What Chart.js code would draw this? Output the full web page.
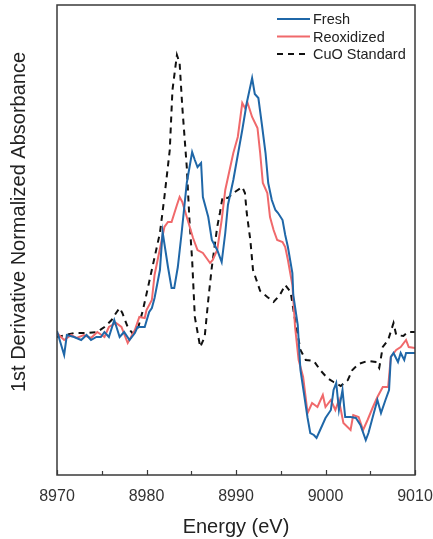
<!DOCTYPE html>
<html>
<head>
<meta charset="utf-8">
<script src="https://cdn.jsdelivr.net/npm/chart.js@4.4.1/dist/chart.umd.min.js"></script>
<style>
  html, body { margin: 0; padding: 0; background: #fff; }
  #wrap { width: 433px; height: 539px; }
</style>
</head>
<body>
<div id="wrap"><canvas id="xanesChart" width="433" height="539"></canvas></div>
<script>
// Energia (eV) y valores de la derivada (unidades arbitrarias)
const energiaFresh = [8970.0, 8970.8, 8971.1, 8971.9, 8972.7, 8973.3, 8973.8, 8974.4, 8974.9, 8975.3, 8975.8, 8976.4, 8977.0, 8977.5, 8978.1, 8978.7, 8979.0, 8979.8, 8980.3, 8980.6, 8980.9, 8981.5, 8981.8, 8982.4, 8982.8, 8983.1, 8983.5, 8983.9, 8984.5, 8985.1, 8985.4, 8985.7, 8986.1, 8986.3, 8986.9, 8987.3, 8987.9, 8988.4, 8988.8, 8989.1, 8989.7, 8990.7, 8991.2, 8991.8, 8992.1, 8992.5, 8992.9, 8993.3, 8993.6, 8994.0, 8994.4, 8994.7, 8995.2, 8995.5, 8995.8, 8996.3, 8996.4, 8996.9, 8997.2, 8998.0, 8998.3, 8998.7, 8999.0, 8999.4, 9000.0, 9000.6, 9000.9, 9001.2, 9001.5, 9001.9, 9002.2, 9002.8, 9003.4, 9003.9, 9004.5, 9004.8, 9005.4, 9005.8, 9006.2, 9006.7, 9007.1, 9007.3, 9007.6, 9008.1, 9008.4, 9008.8, 9009.0, 9010.0];
const valoresFresh = [144, 120, 140, 138, 135, 140, 135, 138, 138, 143, 138, 155, 138, 143, 135, 142, 148, 148, 163, 167, 177, 205, 243, 208, 187, 187, 208, 240, 292, 323, 315, 308, 312, 278, 258, 235, 225, 213, 242, 270, 295, 345, 372, 397, 381, 377, 350, 322, 292, 275, 265, 262, 255, 240, 228, 202, 180, 150, 105, 57, 42, 40, 37, 45, 57, 65, 85, 92, 65, 85, 58, 58, 57, 50, 35, 42, 62, 75, 62, 75, 85, 118, 122, 113, 122, 115, 122, 122];

const energiaReox = [8970.0, 8970.8, 8971.6, 8972.2, 8973.0, 8973.8, 8974.5, 8975.3, 8975.8, 8976.6, 8977.2, 8977.9, 8978.7, 8979.2, 8979.8, 8980.0, 8980.6, 8980.9, 8981.7, 8982.0, 8982.4, 8982.8, 8983.4, 8983.7, 8984.0, 8984.6, 8985.2, 8985.7, 8986.3, 8986.7, 8987.1, 8987.4, 8987.9, 8988.4, 8988.8, 8989.7, 8990.2, 8990.7, 8991.0, 8991.3, 8991.8, 8992.4, 8992.7, 8993.0, 8993.5, 8993.8, 8994.2, 8994.6, 8995.2, 8995.5, 8995.8, 8996.3, 8996.6, 8997.0, 8997.5, 8998.0, 8998.5, 8999.1, 8999.7, 9000.0, 9000.6, 9001.1, 9001.5, 9002.0, 9002.8, 9003.1, 9003.7, 9004.2, 9004.7, 9005.3, 9005.8, 9006.4, 9007.0, 9007.3, 9007.9, 9008.4, 9009.0, 9009.3, 9010.0];
const valoresReox = [142, 135, 140, 137, 140, 137, 143, 138, 148, 152, 148, 132, 145, 158, 157, 165, 175, 200, 235, 248, 253, 253, 270, 278, 273, 255, 237, 225, 222, 217, 212, 215, 225, 255, 285, 322, 338, 372, 367, 372, 358, 347, 322, 292, 282, 258, 245, 235, 233, 228, 215, 190, 148, 115, 98, 62, 72, 68, 80, 68, 75, 65, 75, 52, 45, 60, 58, 45, 55, 68, 78, 88, 88, 118, 125, 128, 135, 128, 127];

const energiaCuO = [8970.0, 8971.9, 8973.4, 8974.5, 8975.3, 8976.1, 8976.6, 8977.0, 8977.3, 8977.9, 8978.4, 8979.0, 8979.6, 8980.1, 8981.5, 8982.0, 8982.6, 8982.9, 8983.4, 8983.7, 8984.0, 8984.5, 8984.8, 8985.1, 8985.4, 8986.0, 8986.5, 8986.9, 8987.3, 8987.9, 8988.2, 8988.5, 8989.1, 8989.7, 8990.7, 8991.0, 8991.2, 8991.6, 8991.9, 8992.7, 8993.5, 8994.2, 8994.9, 8995.5, 8996.1, 8996.6, 8997.2, 8997.8, 8998.7, 8999.4, 9000.2, 9000.9, 9001.7, 9002.5, 9003.0, 9003.7, 9004.7, 9005.6, 9006.0, 9006.4, 9007.0, 9007.6, 9007.9, 9008.7, 9009.2, 9010.0];
const valoresCuO = [138, 142, 142, 143, 148, 155, 162, 167, 162, 148, 142, 145, 165, 185, 242, 278, 325, 385, 420, 412, 368, 308, 255, 215, 158, 128, 138, 175, 208, 248, 262, 278, 277, 282, 288, 282, 262, 235, 205, 184, 178, 173, 180, 190, 183, 155, 125, 115, 114, 105, 97, 93, 89, 95, 105, 111, 114, 113, 107, 128, 135, 152, 140, 139, 143, 143];

const etiquetas = ['Fresh', 'Reoxidized', 'CuO Standard'];
const ticksEnergia = [8970, 8980, 8990, 9000, 9010];
const tituloY = '1st Derivative Normalized Absorbance';

const fuente = '"Liberation Sans", Arial, sans-serif';

function puntos(xs, ys) {
    return xs.map((x, i) => ({ x: x, y: ys[i] }));
}

// Marco, marcas hacia adentro, titulo Y y leyenda dentro del area
const marcoPlugin = {
    id: 'marco',
    afterDraw(chart) {
        const ctx = chart.ctx;
        const a = chart.chartArea;
        const xs = chart.scales.x;
        ctx.save();
        ctx.strokeStyle = '#3a3a3a';
        ctx.lineWidth = 1.5;
        ctx.strokeRect(a.left, a.top, a.right - a.left, a.bottom - a.top);
        ctx.lineWidth = 1.2;
        for (let e = 8970; e <= 9010; e += 5) {
            const px = Math.round(xs.getPixelForValue(e)) + 0.5;
            const len = (e % 10 === 0) ? 5 : 4;
            ctx.beginPath();
            ctx.moveTo(px, a.bottom);
            ctx.lineTo(px, a.bottom - len);
            ctx.stroke();
        }
        // titulo del eje Y
        ctx.save();
        ctx.translate(19, 222);
        ctx.rotate(-Math.PI / 2);
        ctx.font = '20px ' + fuente;
        ctx.fillStyle = '#222';
        ctx.textAlign = 'center';
        ctx.textBaseline = 'middle';
        ctx.fillText(tituloY, 0, 0);
        ctx.restore();
        // leyenda
        ctx.font = '14.5px ' + fuente;
        ctx.textBaseline = 'middle';
        ctx.fillStyle = '#222';
        chart.data.datasets.forEach((ds, i) => {
            const y = 19 + i * 17.5;
            ctx.strokeStyle = ds.borderColor;
            ctx.lineWidth = 2;
            ctx.setLineDash(ds.borderDash || []);
            ctx.beginPath();
            ctx.moveTo(277, y);
            ctx.lineTo(310, y);
            ctx.stroke();
            ctx.setLineDash([]);
            ctx.fillText(ds.label, 313, y + 1);
        });
        ctx.restore();
    }
};

document.addEventListener('DOMContentLoaded', function () {
    const ctx = document.getElementById('xanesChart').getContext('2d');
    const grafica = new Chart(ctx, {
        type: 'line',
        data: {
            datasets: [{
                label: etiquetas[0],
                data: puntos(energiaFresh, valoresFresh),
                borderColor: '#1f67a8',
                borderWidth: 2,
                pointRadius: 0,
                tension: 0
            }, {
                label: etiquetas[1],
                data: puntos(energiaReox, valoresReox),
                borderColor: '#f0696b',
                borderWidth: 2,
                pointRadius: 0,
                tension: 0
            }, {
                label: etiquetas[2],
                data: puntos(energiaCuO, valoresCuO),
                borderColor: '#111111',
                borderWidth: 2,
                borderDash: [6, 5],
                pointRadius: 0,
                tension: 0
            }]
        },
        options: {
            responsive: false,
            animation: false,
            layout: { padding: { left: 0, right: 18, top: 5, bottom: 0 } },
            plugins: {
                legend: { display: false },
                tooltip: { enabled: false }
            },
            scales: {
                x: {
                    type: 'linear',
                    min: 8970,
                    max: 9010,
                    grid: { display: false, drawTicks: false },
                    border: { display: false },
                    afterBuildTicks(scale) {
                        scale.ticks = ticksEnergia.map(v => ({ value: v }));
                    },
                    afterFit(scale) {
                        scale.height = 64;
                        scale.paddingRight = 0;
                        scale.paddingLeft = 0;
                    },
                    ticks: {
                        padding: 12,
                        color: '#333',
                        maxRotation: 0,
                        font: { family: fuente, size: 16 },
                        callback: v => String(v)
                    },
                    title: {
                        display: true,
                        text: 'Energy (eV)',
                        color: '#222',
                        padding: { top: 4, bottom: 0 },
                        font: { family: fuente, size: 20 }
                    }
                },
                y: {
                    min: 0,
                    max: 470,
                    grid: { display: false, drawTicks: false },
                    border: { display: false },
                    ticks: { display: false },
                    afterFit(scale) { scale.width = 57; }
                }
            }
        },
        plugins: [marcoPlugin]
    });
});
</script>
</body>
</html>
